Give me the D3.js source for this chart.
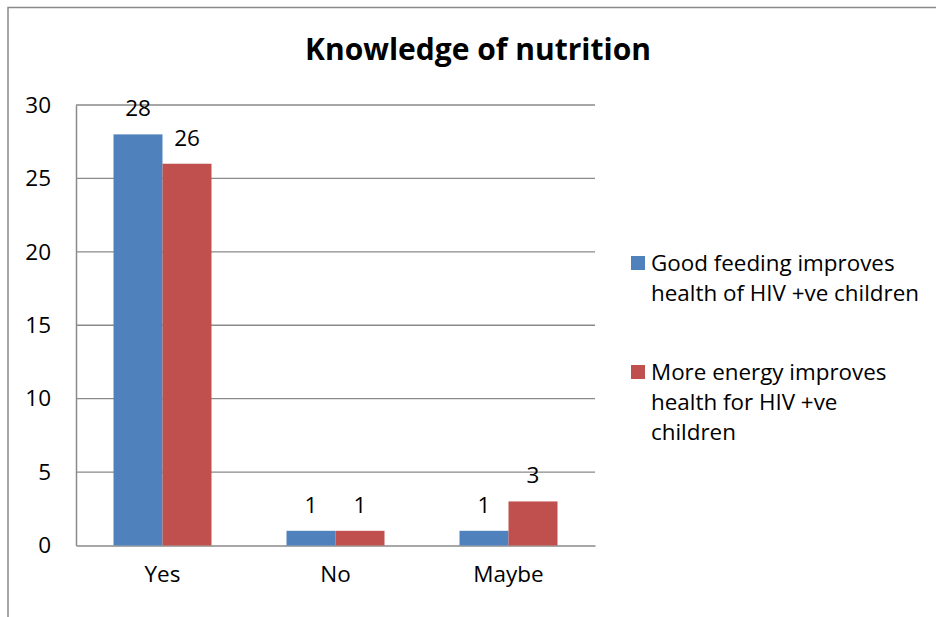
<!DOCTYPE html>
<html>
<head>
<meta charset="utf-8">
<script src="https://cdn.jsdelivr.net/npm/d3@7"></script>
<style>
  body { margin: 0; background: #fff; }
  text { font-family: "Open Sans", sans-serif; fill: #000; }
</style>
</head>
<body>
<script>
// chart data
var categories = ["Yes", "No", "Maybe"];
var seriesNames = [
  ["Good feeding improves", "health of HIV +ve children"],
  ["More energy improves", "health for HIV +ve", "children"]
];
var goodFeeding = [28, 1, 1];
var moreEnergy = [26, 1, 3];
var yTicks = [0, 5, 10, 15, 20, 25, 30];
var colors = ["#4F81BD", "#C0504D"];

var W = 936, H = 617;
var plot = {left: 76, right: 595, top: 105, bottom: 545.5};

var svg = d3.select("body").append("svg")
    .attr("width", W)
    .attr("height", H);

svg.append("rect").attr("width", W).attr("height", H).attr("fill", "#fff");

// outer chart frame (cut off at right and bottom)
svg.append("rect")
    .attr("x", 8).attr("y", 7.5)
    .attr("width", W + 20).attr("height", H + 20)
    .attr("fill", "none")
    .attr("stroke", "#8a8a8a")
    .attr("stroke-width", 1.5);

// title
svg.append("text")
    .attr("x", 478).attr("y", 60)
    .attr("text-anchor", "middle")
    .style("font-size", "30px")
    .style("font-weight", "bold")
    .text("Knowledge of nutrition");

var x = d3.scaleBand()
    .domain(categories)
    .range([plot.left, plot.right])
    .paddingInner(0)
    .paddingOuter(0);

var y = d3.scaleLinear()
    .domain([0, 30])
    .range([plot.bottom, plot.top]);

// gridlines
svg.append("g").selectAll("line")
    .data(yTicks.slice(1))
    .enter().append("line")
    .attr("x1", plot.left).attr("x2", plot.right)
    .attr("y1", function(d) { return y(d); })
    .attr("y2", function(d) { return y(d); })
    .attr("stroke", "#8a8a8a")
    .attr("stroke-width", 1.3);

// y axis
var yAxis = svg.append("g")
    .attr("transform", "translate(" + plot.left + ",0)")
    .call(d3.axisLeft(y).tickValues(yTicks).tickSize(0).tickPadding(25));
yAxis.select(".domain").attr("stroke", "#8a8a8a").attr("stroke-width", 1.5);
yAxis.selectAll("text").style("font-size", "22.5px").style("font-family", "Open Sans");

// x axis
var xAxis = svg.append("g")
    .attr("transform", "translate(0," + plot.bottom + ")")
    .call(d3.axisBottom(x).tickSize(0).tickPadding(21));
xAxis.select(".domain").attr("stroke", "#8a8a8a").attr("stroke-width", 1.5);
xAxis.selectAll("text").style("font-size", "22.5px").style("font-family", "Open Sans");

// bars
var barW = 49;
var series = [goodFeeding, moreEnergy];
series.forEach(function(vals, si) {
  var g = svg.append("g");
  g.selectAll("rect")
    .data(vals)
    .enter().append("rect")
    .attr("x", function(d, i) { return x(categories[i]) + x.bandwidth() / 2 - barW + si * barW; })
    .attr("width", barW)
    .attr("y", function(d) { return y(d); })
    .attr("height", function(d) { return plot.bottom - y(d); })
    .attr("fill", colors[si]);
  g.selectAll("text")
    .data(vals)
    .enter().append("text")
    .attr("x", function(d, i) { return x(categories[i]) + x.bandwidth() / 2 - barW / 2 + si * barW; })
    .attr("y", function(d) { return y(d) - 18; })
    .attr("text-anchor", "middle")
    .style("font-size", "22.5px")
    .text(function(d) { return d; });
});

// legend
var legendTop = [263, 372];
seriesNames.forEach(function(lines, si) {
  svg.append("rect")
    .attr("x", 631).attr("y", legendTop[si] - 7)
    .attr("width", 14).attr("height", 14)
    .attr("fill", colors[si]);
  lines.forEach(function(line, li) {
    svg.append("text")
      .attr("x", 651)
      .attr("y", legendTop[si] + 8 + li * 30)
      .style("font-size", "22.4px")
      .text(line);
  });
});
</script>
</body>
</html>
